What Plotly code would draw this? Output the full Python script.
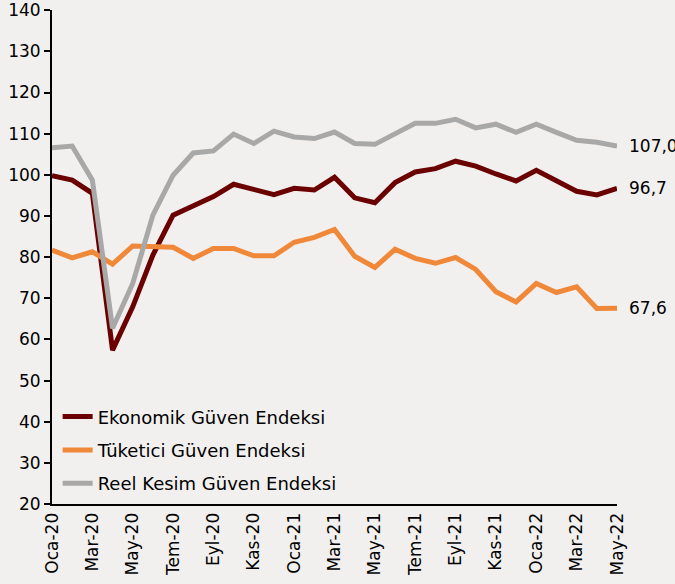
import plotly.graph_objects as go

months = [
    "Oca-20", "Şub-20", "Mar-20", "Nis-20", "May-20", "Haz-20", "Tem-20", "Ağu-20",
    "Eyl-20", "Eki-20", "Kas-20", "Ara-20", "Oca-21", "Şub-21", "Mar-21", "Nis-21",
    "May-21", "Haz-21", "Tem-21", "Ağu-21", "Eyl-21", "Eki-21", "Kas-21", "Ara-21",
    "Oca-22", "Şub-22", "Mar-22", "Nis-22", "May-22",
]

ekonomik = [
    99.8, 98.7, 95.5, 57.4, 67.9, 80.5, 90.2, 92.6, 94.7, 97.7, 96.4, 95.2, 96.7, 96.3, 99.4,
    94.4, 93.2, 98.1, 100.7, 101.5, 103.3, 102.1, 100.2, 98.5, 101.1, 98.5, 96.0, 95.1, 96.7,
]
tuketici = [
    81.7, 79.8, 81.3, 78.3, 82.7, 82.7, 82.4, 79.7, 82.1, 82.1, 80.3, 80.3, 83.6, 84.8, 86.7,
    80.2, 77.5, 81.9, 79.7, 78.5, 79.9, 77.0, 71.6, 69.1, 73.6, 71.4, 72.8, 67.5, 67.6,
]
reel_kesim = [
    106.6, 107.0, 98.7, 62.7, 73.6, 90.2, 99.9, 105.3, 105.8, 109.9, 107.6, 110.6, 109.2, 108.8, 110.4,
    107.6, 107.4, 110.0, 112.5, 112.5, 113.5, 111.4, 112.3, 110.3, 112.3, 110.3, 108.4, 107.9, 107.0,
]

series = [
    ("Ekonomik Güven Endeksi", ekonomik, "#6B0000"),
    ("Tüketici Güven Endeksi", tuketici, "#F0883A"),
    ("Reel Kesim Güven Endeksi", reel_kesim, "#A8A8A8"),
]

font_family = "DejaVu Sans"
bg = "#F2F0EE"

fig = go.Figure()
for i, (name, vals, color) in enumerate(series):
    fig.add_trace(go.Scatter(
        x=months, y=vals, name=name, mode="lines",
        line=dict(color=color, width=5),
        legendgroup=str(i),
    ))
    # value label next to the last point
    fig.add_annotation(
        x=months[-1], y=vals[-1], text=f"{vals[-1]:.1f}".replace(".", ","),
        showarrow=False, xanchor="left", xshift=10,
        font=dict(size=17, color="black", family=font_family),
    )

fig.update_layout(
    width=675, height=584,
    margin=dict(l=52, r=58, t=10, b=80),
    paper_bgcolor=bg, plot_bgcolor=bg,
    font=dict(family=font_family, size=17, color="black"),
    showlegend=True,
    legend=dict(
        x=0.01, y=0.214, xanchor="left", yanchor="top",
        bgcolor="rgba(0,0,0,0)", font=dict(size=18),
        traceorder="grouped", tracegroupgap=7,
    ),
)
fig.update_xaxes(
    range=[0, len(months) - 1],
    tickvals=months[::2], ticktext=months[::2],
    tickangle=-90, showgrid=False, zeroline=False,
    showline=True, linecolor="black", linewidth=2,
    ticks="", tickfont=dict(size=17), automargin=False,
)
fig.update_yaxes(
    range=[20, 140.05], tickvals=list(range(20, 141, 10)),
    showgrid=False, zeroline=False,
    showline=True, linecolor="black", linewidth=2,
    ticks="outside", ticklen=6, tickwidth=2, tickcolor="black",
    tickfont=dict(size=17), automargin=False,
)

fig.write_html(
    "out.html",
    config={"displayModeBar": False},
    post_script="document.body.style.margin='0';",
)
